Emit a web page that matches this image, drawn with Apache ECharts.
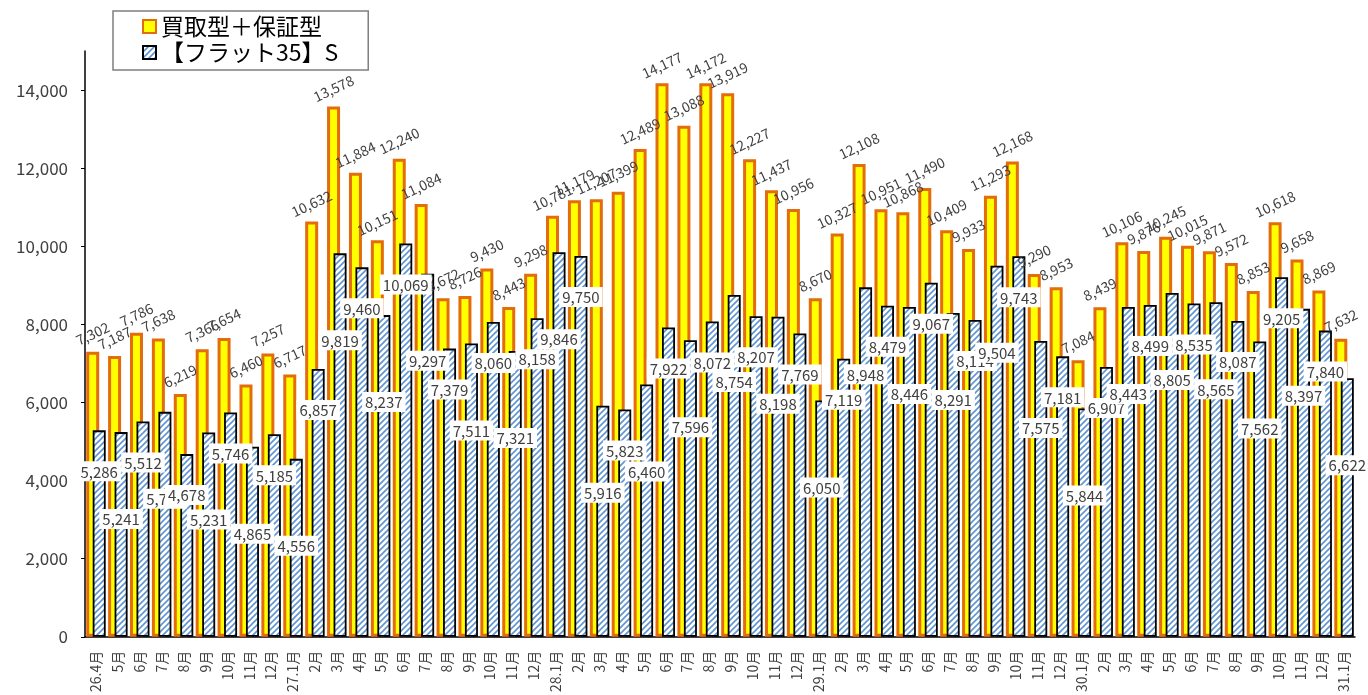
<!DOCTYPE html>
<html>
<head>
<meta charset="utf-8">
<script src="https://cdn.jsdelivr.net/npm/echarts@6/dist/echarts.min.js"></script>
<style>
  html, body { margin: 0; padding: 0; background: #fff; }
  #chart { width: 1368px; height: 695px; }
</style>
</head>
<body>
<div id="chart"></div>
<script>
// 月次の申請件数（買取型＋保証型 と 【フラット35】S）
const categories = [
  '26.4月','5月','6月','7月','8月','9月','10月','11月','12月',
  '27.1月','2月','3月','4月','5月','6月','7月','8月','9月','10月','11月','12月',
  '28.1月','2月','3月','4月','5月','6月','7月','8月','9月','10月','11月','12月',
  '29.1月','2月','3月','4月','5月','6月','7月','8月','9月','10月','11月','12月',
  '30.1月','2月','3月','4月','5月','6月','7月','8月','9月','10月','11月','12月',
  '31.1月'
];

const kaitoriHosho = [
  7302, 7187, 7786, 7638, 6219, 7366, 7654, 6460, 7257,
  6717, 10632, 13578, 11884, 10151, 12240, 11084, 8672, 8726, 9430, 8443, 9298,
  10781, 11179, 11207, 11399, 12489, 14177, 13088, 14172, 13919, 12227, 11437, 10956,
  8670, 10327, 12108, 10951, 10868, 11490, 10409, 9933, 11293, 12168, 9290, 8953,
  7084, 8439, 10106, 9876, 10245, 10015, 9871, 9572, 8853, 10618, 9658, 8869,
  7632
];

const flat35S = [
  5286, 5241, 5512, 5760, 4678, 5231, 5746, 4865, 5185,
  4556, 6857, 9819, 9460, 8237, 10069, 9297, 7379, 7511, 8060, 7321, 8158,
  9846, 9750, 5916, 5823, 6460, 7922, 7596, 8072, 8754, 8207, 8198, 7769,
  6050, 7119, 8948, 8479, 8446, 9067, 8291, 8114, 9504, 9743, 7575, 7181,
  5844, 6907, 8443, 8499, 8805, 8535, 8565, 8087, 7562, 9205, 8397, 7840,
  6622
];

const seriesNames = ['買取型＋保証型', '【フラット35】S'];
const yTicks = [0, 2000, 4000, 6000, 8000, 10000, 12000, 14000];

const FONT = "'Noto Sans CJK JP', 'Noto Sans', sans-serif";
const fmt = v => Number(v).toLocaleString('en-US');

// 斜線ハッチングのタイル
function hatchTile() {
  const s = 6;
  const c = document.createElement('canvas');
  c.width = s; c.height = s;
  const g = c.getContext('2d');
  g.fillStyle = '#ffffff';
  g.fillRect(0, 0, s, s);
  g.strokeStyle = '#5F94D4';
  g.lineWidth = 1.6;
  g.beginPath();
  g.moveTo(-1, s + 1); g.lineTo(s + 1, -1);
  g.moveTo(-1, 1); g.lineTo(1, -1);
  g.moveTo(s - 1, s + 1); g.lineTo(s + 1, s - 1);
  g.stroke();
  return c;
}
const hatch = { image: hatchTile(), repeat: 'repeat' };

// 【フラット35】S のラベルは交互に上下へずらして重なりを避ける
const flatData = flat35S.map((v, i) => ({
  value: v,
  label: { offset: [0, i % 2 ? 72 : 26] }
}));

const chart = echarts.init(document.getElementById('chart'), null, { renderer: 'canvas' });

chart.setOption({
  animation: false,
  backgroundColor: '#ffffff',
  textStyle: { fontFamily: FONT },
  grid: { left: 85, right: 13, top: 51, bottom: 58, containLabel: false },
  legend: {
    orient: 'vertical',
    left: 113,
    top: 11,
    data: seriesNames,
    icon: 'rect',
    itemWidth: 13,
    itemHeight: 13,
    itemGap: 3,
    padding: [4, 30, 6, 29],
    backgroundColor: '#ffffff',
    borderColor: '#7f7f7f',
    borderWidth: 1.5,
    textStyle: { fontFamily: FONT, fontSize: 23, color: '#000000' }
  },
  xAxis: {
    type: 'category',
    data: categories,
    axisLine: { lineStyle: { color: '#000000', width: 1.5 } },
    axisTick: { show: false },
    axisLabel: {
      interval: 0,
      rotate: 90,
      margin: 14,
      fontSize: 14,
      color: '#404040',
      fontFamily: FONT
    }
  },
  yAxis: {
    type: 'value',
    min: 0,
    max: 15000,
    interval: 1000,
    splitLine: { show: false },
    axisLine: { show: true, lineStyle: { color: '#000000', width: 1.5 } },
    axisTick: {
      show: true,
      inside: false,
      length: 4,
      customValues: yTicks,
      lineStyle: { color: '#000000' }
    },
    axisLabel: {
      customValues: yTicks,
      margin: 17,
      fontSize: 17,
      color: '#404040',
      fontFamily: FONT,
      formatter: v => fmt(v)
    }
  },
  series: [
    {
      name: seriesNames[0],
      type: 'bar',
      data: kaitoriHosho,
      barWidth: 13,
      barGap: '-50%',
      itemStyle: { color: '#FFFF00', borderColor: '#E46C0A', borderWidth: 3 },
      label: {
        show: true,
        position: 'top',
        distance: 18,
        rotate: 25,
        align: 'center',
        verticalAlign: 'middle',
        fontSize: 14,
        color: '#404040',
        fontFamily: FONT,
        formatter: p => fmt(p.value)
      }
    },
    {
      name: seriesNames[1],
      type: 'bar',
      data: flatData,
      barWidth: 13,
      barGap: '-50%',
      itemStyle: { color: hatch, borderColor: '#000000', borderWidth: 1.8 },
      label: {
        show: true,
        position: 'insideTop',
        fontSize: 15,
        color: '#404040',
        fontFamily: FONT,
        backgroundColor: '#ffffff',
        padding: [3, 3, 2, 3],
        formatter: p => fmt(p.value)
      }
    }
  ]
});
</script>
</body>
</html>
